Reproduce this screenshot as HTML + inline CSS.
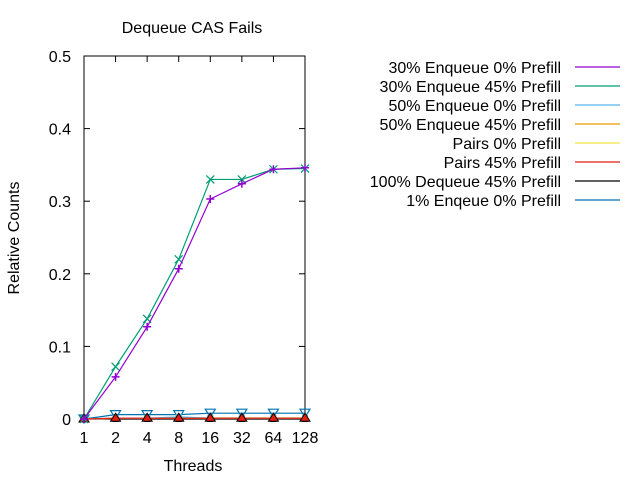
<!DOCTYPE html>
<html><head><meta charset="utf-8"><style>
body{margin:0;background:#fff;font-family:"Liberation Sans",sans-serif}
svg text{font-family:"Liberation Sans",sans-serif}
</style></head><body>
<svg id="chart" width="640" height="480">
<text x="192" y="33" font-size="16" text-anchor="middle">Dequeue CAS Fails</text>
<text transform="translate(19,238) rotate(-90)" font-size="16" text-anchor="middle">Relative Counts</text>
<text x="193" y="471" font-size="16" text-anchor="middle">Threads</text>
<g id="axes"></g><g id="series"></g><g id="legend"></g>
</svg>
<script>
const categories=["1","2","4","8","16","32","64","128"];
const yTicks=[0,0.1,0.2,0.3,0.4,0.5];
const seriesNames=["30% Enqueue 0% Prefill","30% Enqueue 45% Prefill","50% Enqueue 0% Prefill","50% Enqueue 45% Prefill","Pairs 0% Prefill","Pairs 45% Prefill","100% Dequeue 45% Prefill","1% Enqeue 0% Prefill"];
const s30e0=[0,0.058,0.127,0.207,0.303,0.324,0.344,0.346];
const s30e45=[0,0.072,0.138,0.220,0.330,0.330,0.344,0.345];
const s50e0=[0,0.001,0.001,0.003,0.001,0.001,0.001,0.001];
const s50e45=[0,0.001,0.001,0.001,0.001,0.001,0.001,0.001];
const sPairs0=[0,0.001,0.001,0.0015,0.0015,0.0015,0.0015,0.0015];
const sPairs45=[0,0.001,0.001,0.001,0.001,0.001,0.001,0.001];
const sDeq45=[0,0,0,0,0,0,0,0];
const s1e0=[0,0.006,0.006,0.006,0.008,0.008,0.008,0.008];
const allSeries=[s30e0,s30e45,s50e0,s50e45,sPairs0,sPairs45,sDeq45,s1e0];
const colors=["#9400d3","#009e73","#56b4e9","#e69f00","#f0e442","#e51e10","#000000","#0072b2"];
const L=84,R=305,T=56,B=419;
const xs=i=>L+(R-L)*i/(categories.length-1);
const ys=v=>B-(B-T)*v/0.5;
const NS="http://www.w3.org/2000/svg";
function mk(tag,attrs,parent){const e=document.createElementNS(NS,tag);for(const k in attrs)e.setAttribute(k,attrs[k]);parent.appendChild(e);return e;}
const axes=document.getElementById('axes');
const frame=mk('rect',{x:L,y:T,width:R-L,height:B-T,fill:'none',stroke:'#000','stroke-width':1},axes);


yTicks.forEach(v=>{
  mk('line',{x1:L,x2:L+6,y1:ys(v),y2:ys(v),stroke:'#000'},axes);
  mk('line',{x1:R,x2:R-6,y1:ys(v),y2:ys(v),stroke:'#000'},axes);
  const t=mk('text',{x:L-13,y:ys(v)+6,'font-size':16,'text-anchor':'end'},axes);
  t.textContent=v===0?"0":v.toFixed(1);
  
  
});
categories.forEach((c,i)=>{
  mk('line',{x1:xs(i),x2:xs(i),y1:B,y2:B-6,stroke:'#000'},axes);
  mk('line',{x1:xs(i),x2:xs(i),y1:T,y2:T+6,stroke:'#000'},axes);
  const t=mk('text',{x:xs(i),y:B+24,'font-size':16,'text-anchor':'middle'},axes);
  t.textContent=c;
  
  
});
const sg=document.getElementById('series');
const order=[7,6,4,3,2,5,1,0];
order.forEach(k=>{
  const d=allSeries[k];const col=colors[k];
  const g=mk('g',{},sg);
  
  
  mk('polyline',{points:d.map((v,i)=>xs(i)+','+ys(v)).join(' '),fill:'none',stroke:col,'stroke-width':1.2},g);
  d.forEach((v,i)=>{
    const x=xs(i),y=ys(v);let m;
    if(k===0) m=mk('path',{d:`M${x-4},${y}H${x+4}M${x},${y-4}V${y+4}`,stroke:col,'stroke-width':1.5},g);
    else if(k===1) m=mk('path',{d:`M${x-4},${y-4}L${x+4},${y+4}M${x-4},${y+4}L${x+4},${y-4}`,stroke:col,'stroke-width':1.2},g);
    else if(k===5) m=mk('path',{d:`M${x},${y-5}L${x+5},${y+3}L${x-5},${y+3}Z`,fill:col,stroke:'#000','stroke-width':1},g);
    else if(k===7) m=mk('path',{d:`M${x-5},${y-4}H${x+5}L${x},${y+4}Z`,fill:'none',stroke:col,'stroke-width':1.2},g);
    else m=mk('rect',{x:x-3,y:y-3,width:6,height:6,fill:col},g);
    
    
  });
});
const lg=document.getElementById('legend');
seriesNames.forEach((n,k)=>{
  const y=67+19*k;
  const g=mk('g',{},lg);
  
  
  const t=mk('text',{x:561,y:y+6,'font-size':16,'text-anchor':'end'},g);t.textContent=n;
  mk('line',{x1:575,x2:620,y1:y,y2:y,stroke:colors[k],'stroke-width':1.2},g);
});
</script>
</body></html>
